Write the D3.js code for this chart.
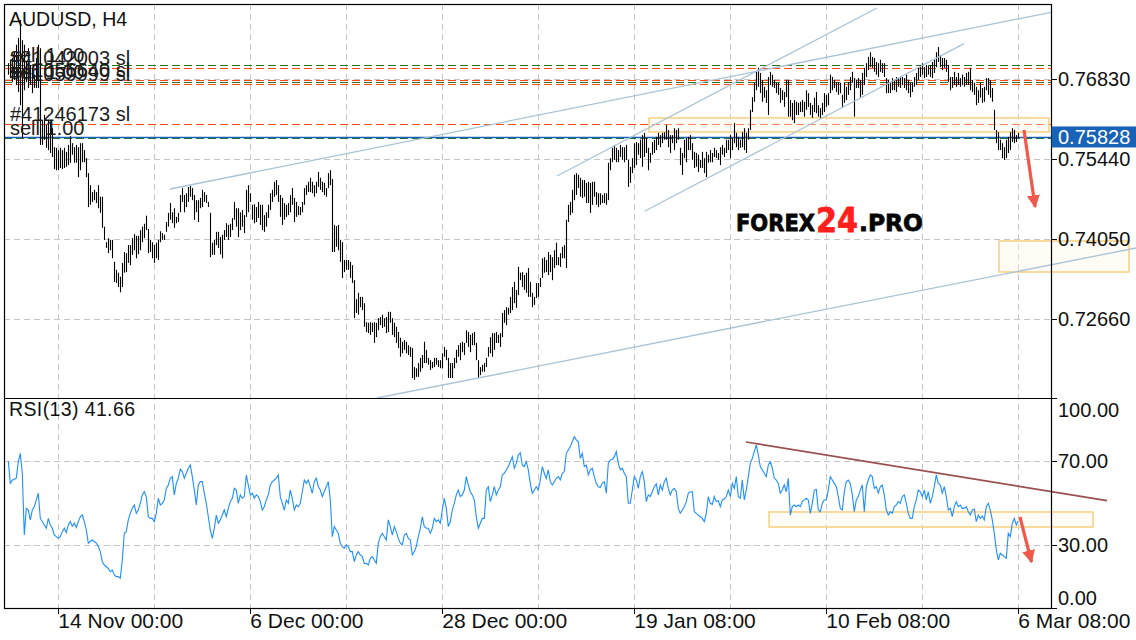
<!DOCTYPE html>
<html>
<head>
<meta charset="utf-8">
<script src="https://cdn.jsdelivr.net/npm/d3@7"></script>
<style>
body { margin: 0; background: #fff; }
svg { display: block; font-family: "Liberation Sans", Arial, sans-serif; }
</style>
</head>
<body>
<svg id="chart" width="1136" height="640"></svg>
<script>
// AUDUSD H4 bars, prices in pips (7683 = 0.76830)
var highs = [
7711,7717,7720,7730,7743,7755,7786,7751,7743,7713,
7737,7708,7704,7691,7720,7743,7737,7612,7621,7604,
7612,7609,7598,7565,7564,7560,7564,7560,7564,7557,
7569,7584,7572,7565,7569,7565,7572,7572,7560,7546,
7520,7499,7487,7491,7487,7499,7479,7479,7427,7400,
7407,7404,7404,7366,7352,7347,7340,7364,7383,7381,
7395,7395,7407,7414,7411,7411,7421,7427,7432,7446,
7423,7404,7400,7395,7399,7404,7419,7416,7413,7435,
7451,7468,7452,7459,7444,7451,7482,7494,7482,7485,
7496,7498,7494,7482,7473,7473,7477,7491,7487,7482,
7470,7451,7399,7404,7418,7418,7409,7413,7421,7433,
7430,7432,7442,7470,7459,7459,7452,7456,7447,7491,
7499,7485,7465,7466,7461,7470,7465,7465,7447,7452,
7465,7485,7491,7505,7508,7499,7482,7477,7468,7465,
7468,7482,7494,7477,7470,7463,7461,7470,7494,7499,
7505,7512,7505,7499,7505,7522,7512,7505,7503,7494,
7520,7525,7510,7430,7428,7430,7404,7400,7369,7369,
7369,7366,7360,7334,7301,7312,7305,7305,7294,7261,
7260,7261,7260,7261,7260,7268,7270,7274,7268,7270,
7279,7279,7268,7260,7253,7244,7234,7227,7230,7227,
7221,7218,7216,7183,7181,7190,7199,7204,7227,7213,
7199,7195,7192,7199,7199,7195,7195,7207,7218,7213,
7199,7190,7190,7199,7213,7221,7225,7227,7225,7247,
7244,7239,7242,7244,7225,7195,7183,7187,7190,7199,
7218,7235,7242,7242,7244,7239,7242,7277,7282,7287,
7286,7305,7322,7331,7317,7357,7347,7348,7343,7347,
7355,7331,7312,7305,7329,7329,7338,7372,7374,7369,
7383,7378,7374,7386,7399,7374,7381,7392,7395,7439,
7465,7470,7491,7517,7520,7517,7512,7508,7508,7503,
7505,7503,7505,7505,7487,7485,7485,7482,7485,7485,
7538,7546,7564,7569,7564,7560,7569,7565,7565,7569,
7543,7531,7546,7572,7574,7572,7578,7586,7590,7581,
7564,7555,7574,7578,7583,7590,7586,7590,7591,7604,
7595,7586,7586,7598,7595,7598,7564,7555,7578,7581,
7583,7586,7572,7557,7555,7552,7543,7557,7546,7557,
7552,7560,7555,7564,7560,7555,7565,7569,7564,7578,
7578,7586,7581,7607,7590,7583,7578,7591,7598,7590,
7598,7630,7652,7677,7696,7703,7694,7682,7670,7664,
7687,7696,7691,7682,7677,7677,7668,7664,7661,7682,
7682,7647,7642,7647,7644,7642,7644,7647,7644,7664,
7659,7642,7638,7651,7661,7638,7633,7642,7659,7656,
7659,7691,7687,7682,7678,7678,7677,7656,7677,7670,
7678,7687,7696,7685,7682,7685,7682,7694,7703,7711,
7722,7730,7722,7720,7713,7711,7717,7711,7711,7685,
7682,7678,7685,7682,7687,7685,7687,7687,7685,7691,
7682,7677,7678,7687,7694,7703,7708,7711,7704,7708,
7706,7708,7713,7717,7730,7739,7725,7720,7720,7717,
7708,7687,7687,7696,7687,7694,7685,7691,7687,7694,
7696,7703,7682,7677,7670,7664,7677,7668,7670,7685,
7685,7682,7668,7630,7595,7591,7578,7572,7565,7578,
7583,7591,7598,7595,7586,7590
];
var lows = [
7691,7685,7678,7682,7673,7661,7638,7581,7664,7678,
7668,7673,7659,7668,7668,7668,7569,7569,7578,7564,
7560,7555,7548,7527,7525,7525,7529,7527,7529,7531,
7534,7538,7552,7538,7538,7513,7525,7539,7539,7513,
7461,7465,7470,7473,7468,7459,7451,7425,7404,7390,
7381,7386,7372,7331,7329,7322,7313,7322,7347,7348,
7364,7360,7378,7386,7372,7379,7386,7400,7407,7421,
7381,7383,7372,7364,7372,7369,7400,7404,7404,7418,
7427,7439,7433,7425,7433,7435,7452,7470,7452,7461,
7470,7479,7473,7439,7452,7435,7459,7461,7470,7468,
7461,7374,7378,7378,7395,7390,7379,7372,7404,7409,
7404,7409,7421,7439,7427,7409,7421,7427,7416,7444,
7452,7470,7439,7433,7435,7442,7430,7421,7418,7427,
7442,7456,7470,7479,7482,7470,7444,7430,7439,7444,
7447,7452,7465,7435,7444,7447,7447,7452,7465,7482,
7487,7487,7485,7479,7485,7496,7491,7487,7482,7479,
7494,7499,7383,7383,7392,7386,7366,7338,7348,7352,
7352,7338,7329,7268,7277,7274,7287,7282,7253,7244,
7242,7239,7244,7225,7235,7247,7256,7251,7253,7242,
7244,7260,7239,7235,7225,7216,7201,7207,7213,7207,
7204,7201,7164,7161,7166,7166,7175,7181,7190,7190,
7187,7178,7181,7183,7187,7183,7181,7181,7201,7195,
7164,7164,7164,7181,7190,7201,7195,7209,7204,7225,
7218,7209,7221,7221,7195,7164,7169,7175,7175,7183,
7201,7207,7201,7213,7225,7225,7218,7235,7260,7256,
7274,7277,7282,7294,7286,7308,7334,7322,7317,7312,
7305,7305,7287,7291,7303,7305,7322,7338,7347,7348,
7343,7348,7334,7355,7360,7360,7357,7372,7372,7355,
7435,7447,7451,7473,7482,7494,7479,7477,7479,7468,
7468,7451,7465,7479,7465,7461,7465,7468,7468,7465,
7473,7525,7539,7543,7539,7539,7548,7543,7539,7543,
7496,7503,7520,7529,7534,7552,7546,7531,7548,7555,
7525,7538,7552,7555,7560,7569,7565,7572,7578,7578,
7565,7555,7572,7560,7572,7578,7534,7517,7546,7539,
7560,7560,7543,7529,7531,7522,7529,7529,7520,7513,
7538,7539,7539,7548,7546,7543,7534,7552,7548,7555,
7560,7546,7560,7572,7565,7560,7564,7565,7560,7555,
7578,7595,7626,7644,7664,7670,7659,7644,7651,7642,
7621,7673,7670,7668,7659,7656,7642,7647,7635,7652,
7618,7618,7612,7607,7621,7621,7626,7626,7618,7630,
7635,7621,7616,7626,7624,7618,7616,7621,7626,7635,
7638,7659,7664,7668,7661,7656,7659,7633,7642,7647,
7656,7664,7677,7618,7668,7668,7652,7656,7673,7687,
7699,7704,7703,7696,7691,7687,7696,7694,7687,7659,
7659,7659,7664,7664,7661,7670,7668,7673,7668,7664,
7659,7652,7661,7670,7673,7682,7687,7691,7685,7687,
7691,7687,7685,7694,7704,7713,7704,7699,7703,7696,
7678,7664,7668,7673,7670,7673,7670,7673,7670,7673,
7673,7664,7661,7656,7638,7642,7651,7642,7644,7664,
7656,7651,7644,7595,7572,7560,7560,7546,7543,7546,
7555,7560,7574,7572,7574,7581
];
// RSI(13), one value per bar
var rsi = [
70.0,59.5,61.0,61.5,62.0,69.8,73.8,64.3,34.9,47.6,
46.8,42.1,46.8,48.4,51.6,54.8,42.8,41.3,39.7,38.1,
42.8,39.7,38.1,34.9,34.1,33.3,34.1,36.5,38.1,36.0,
39.7,41.3,39.0,40.5,38.5,41.3,43.6,44.4,41.3,37.3,
31.0,31.8,32.5,31.8,31.0,29.4,27.0,22.2,20.6,19.8,
19.0,17.4,18.2,15.9,15.1,15.1,14.3,23.0,35.7,36.5,
42.1,45.2,47.6,49.2,45.2,46.8,50.0,54.0,55.5,53.2,
43.6,42.8,42.8,41.3,45.2,52.4,49.2,50.0,51.6,57.1,
58.7,61.9,62.7,54.0,59.5,61.9,66.2,65.1,61.9,64.3,
66.7,68.2,62.7,56.3,49.2,58.7,60.3,60.3,54.8,50.0,
43.6,37.3,33.3,38.1,44.4,40.5,42.1,44.4,46.8,43.6,
47.6,50.8,52.4,57.1,56.3,50.0,54.0,52.4,53.2,63.5,
58.7,54.0,54.8,52.4,54.0,53.2,50.8,46.8,48.4,51.6,
54.0,58.7,60.3,61.1,61.9,63.5,53.2,50.0,46.8,51.6,
50.0,56.3,52.4,46.8,49.2,48.4,50.0,55.5,61.1,59.5,
61.1,57.9,54.8,60.3,61.9,57.9,56.3,53.2,55.5,57.9,
60.3,51.6,34.1,38.9,37.3,35.7,31.0,29.4,28.6,30.2,
29.4,27.0,27.0,22.2,25.4,27.0,25.4,24.6,21.4,21.4,
20.6,23.8,24.6,23.0,21.4,31.0,34.1,35.7,34.1,32.5,
42.1,38.9,34.9,38.9,36.5,33.3,31.0,30.2,34.9,35.7,
33.3,32.5,25.4,27.0,29.4,34.1,38.1,43.6,38.9,38.1,
38.1,35.7,38.1,42.8,41.3,42.1,40.5,46.8,52.4,47.6,
38.9,41.3,46.8,50.0,54.0,56.3,53.2,54.0,56.3,62.7,
58.7,55.5,54.0,51.6,43.6,38.1,40.5,42.8,42.8,56.3,
57.9,50.8,54.0,57.9,54.0,56.3,57.9,63.5,64.3,65.9,
67.5,69.8,72.2,66.7,69.0,73.0,74.1,68.2,67.5,69.8,
65.9,59.5,54.8,56.3,57.9,56.3,61.1,67.5,64.3,61.9,
65.9,60.3,58.7,60.3,61.9,62.7,61.1,64.3,65.1,73.8,
75.4,77.0,79.4,81.7,80.2,79.4,71.4,73.8,67.5,68.2,
63.5,65.9,66.7,62.7,59.5,57.9,57.6,59.5,60.3,54.8,
69.0,70.6,70.9,72.2,74.6,69.0,65.9,66.7,64.3,62.7,
50.0,50.0,56.3,62.7,61.1,57.1,62.7,65.1,60.3,50.8,
54.0,53.2,55.5,57.9,59.2,54.0,58.7,56.3,60.3,61.9,
57.1,54.0,56.3,57.1,55.5,47.6,45.2,46.8,48.4,50.8,
54.8,55.5,55.5,46.0,45.2,44.4,43.6,42.8,41.3,45.2,
53.2,50.0,49.5,53.2,50.8,51.2,48.4,51.6,52.0,53.2,
56.3,53.2,59.5,57.1,62.7,53.2,52.4,61.1,51.6,56.3,
62.7,69.0,71.4,74.6,77.8,73.0,67.5,65.9,64.3,62.7,
68.2,69.8,66.7,61.9,61.1,59.5,54.8,56.3,58.7,55.5,
61.9,44.4,48.4,49.2,48.4,49.2,48.4,50.8,51.6,52.4,
51.6,45.2,50.0,56.3,56.6,46.8,46.0,50.0,51.6,51.6,
56.3,62.7,61.1,59.5,57.9,53.2,47.6,46.8,55.5,60.3,
61.1,59.5,54.0,46.0,51.6,53.2,56.3,58.7,46.0,57.9,
61.1,63.5,62.7,57.1,57.9,54.8,57.9,58.7,54.0,46.8,
44.4,46.0,45.2,48.4,49.2,50.8,50.0,53.2,54.0,50.0,
45.2,42.8,42.8,48.4,51.6,56.3,55.5,53.2,56.3,51.6,
55.5,50.0,53.2,57.9,63.5,59.5,58.7,54.8,57.9,53.2,
46.8,47.6,43.6,48.4,50.8,48.4,49.2,47.6,47.6,48.4,
46.0,44.4,46.8,47.2,41.3,44.4,42.8,44.0,42.1,48.4,
50.0,46.8,42.1,35.7,27.8,23.0,26.2,25.4,24.6,23.8,
35.7,34.1,40.5,42.8,39.7,41.66
];

var priceTicks = [0.72660, 0.74050, 0.75440, 0.76830];
var rsiTicks = [100, 70, 30, 0];
var rsiGrid = [70, 30];
var gridBars = [25, 73, 121, 169, 217, 265, 313, 361, 409, 457, 505];
var dateBars = [25, 121, 217, 313, 409, 505];
var dateLabels = ["14 Nov 00:00", "6 Dec 00:00", "28 Dec 00:00", "19 Jan 08:00", "10 Feb 08:00", "6 Mar 08:00"];
var lastPrice = 0.75828;
var rsiLast = 41.66;

// open orders: price level, kind, label
var orderPrices = [0.77073, 0.77021, 0.76813, 0.76778, 0.76754, 0.76048, 0.75818];
var orderKinds = ["open", "sl", "sl", "open", "sl", "sl", "open"];
var orderLabels = ["sell 1.00", "#41042003 sl", "#41056640 sl", "sell 1.00", "#41059999 sl", "#41246173 sl", "sell 1.00"];

// drawings, in [bar, price] / [bar, rsi]
var trendLines = [
  [[80.85, 0.74924], [521.35, 0.77994]],
  [[184.35, 0.71293], [563.85, 0.73899]],
  [[274.35, 0.75150], [434.35, 0.78069]],
  [[318.35, 0.74542], [477.85, 0.77449]]
];
var priceZones = [
  [[320.35, 0.76158], [520.35, 0.75915]],
  [[495.35, 0.74021], [560.35, 0.73482]]
];
var rsiZone = [[380.35, 45.86], [542.35, 38.7]];
var rsiTrend = [[368.85, 79.19], [549.35, 51.29]];
var priceArrow = [[507.85, 0.75950], [513.85, 0.74507]];
var rsiArrow = [[505.85, 43.48], [512.35, 19.19]];

var left = 4, axisX = 1051, priceTop = 4, priceBottom = 398, rsiBottom = 608;
var svg = d3.select("#chart");

var x = d3.scaleLinear().domain([0, 505]).range([8.3, 1018.3]);
var y = d3.scaleLinear().domain([0.71293, 0.78138]).range([priceBottom, priceTop]);
var yr = d3.scaleLinear().domain([0, 100]).range([608.3, 398.3]);

function px(v) { return Math.round(v) + 0.5; }

var bars = highs.map(function(h, i) { return { i: i, high: h / 1e4, low: lows[i] / 1e4 }; });

svg.append("rect").attr("width", 1136).attr("height", 640).attr("fill", "#fff");

var defs = svg.append("defs");
defs.append("clipPath").attr("id", "priceClip").append("rect")
  .attr("x", left).attr("y", priceTop).attr("width", 1136 - left).attr("height", priceBottom - priceTop);
defs.append("marker").attr("id", "head")
  .attr("viewBox", "0 0 12 12").attr("refX", 11).attr("refY", 6)
  .attr("markerWidth", 13).attr("markerHeight", 13).attr("markerUnits", "userSpaceOnUse")
  .attr("orient", "auto")
  .append("path").attr("d", "M0,0 L12,6 L0,12 z").attr("fill", "#f2584a");

// grid
var grid = svg.append("g").attr("stroke", "#c6c6c6").attr("stroke-dasharray", "6,4").attr("stroke-width", 1);
gridBars.forEach(function(b) {
  grid.append("line").attr("x1", px(x(b))).attr("x2", px(x(b))).attr("y1", priceTop).attr("y2", rsiBottom);
});
priceTicks.forEach(function(t) {
  grid.append("line").attr("x1", left).attr("x2", axisX).attr("y1", px(y(t))).attr("y2", px(y(t)));
});
rsiGrid.forEach(function(t) {
  grid.append("line").attr("x1", left).attr("x2", axisX).attr("y1", px(yr(t))).attr("y2", px(yr(t)));
});

// order lines
var orders = svg.append("g");
orderPrices.forEach(function(p, k) {
  orders.append("line")
    .attr("x1", left).attr("x2", axisX).attr("y1", px(y(p))).attr("y2", px(y(p)))
    .attr("stroke", orderKinds[k] == "sl" ? "#ff4a10" : "#23761f")
    .attr("stroke-width", 1.2)
    .attr("stroke-dasharray", "8,4");
});
orders.append("line")
  .attr("x1", left).attr("x2", axisX).attr("y1", px(y(lastPrice))).attr("y2", px(y(lastPrice)))
  .attr("stroke", "#1862b8").attr("stroke-width", 1.3);

// zones
priceZones.forEach(function(z) {
  svg.append("rect")
    .attr("x", x(z[0][0])).attr("y", y(z[0][1]))
    .attr("width", x(z[1][0]) - x(z[0][0])).attr("height", y(z[1][1]) - y(z[0][1]))
    .attr("fill", "rgba(255,246,225,0.35)").attr("stroke", "#f5d081").attr("stroke-width", 1.5);
});
svg.append("rect")
  .attr("x", x(rsiZone[0][0])).attr("y", yr(rsiZone[0][1]))
  .attr("width", x(rsiZone[1][0]) - x(rsiZone[0][0])).attr("height", yr(rsiZone[1][1]) - yr(rsiZone[0][1]))
  .attr("fill", "rgba(255,246,225,0.35)").attr("stroke", "#f5d081").attr("stroke-width", 1.5);

// bars
svg.append("g").attr("clip-path", "url(#priceClip)")
  .selectAll("line").data(bars).join("line")
  .attr("x1", function(d) { return px(x(d.i)); })
  .attr("x2", function(d) { return px(x(d.i)); })
  .attr("y1", function(d) { return y(d.high); })
  .attr("y2", function(d) { return y(d.low); })
  .attr("stroke", "#000").attr("stroke-width", 1.1);

// trend lines
svg.append("g").attr("clip-path", "url(#priceClip)")
  .selectAll("line").data(trendLines).join("line")
  .attr("x1", function(d) { return x(d[0][0]); })
  .attr("y1", function(d) { return y(d[0][1]); })
  .attr("x2", function(d) { return x(d[1][0]); })
  .attr("y2", function(d) { return y(d[1][1]); })
  .attr("stroke", "#a9c3d5").attr("stroke-width", 1.3);

// RSI line
var rsiLine = d3.line().x(function(d, i) { return x(i); }).y(function(d) { return yr(d); });
svg.append("path").datum(rsi).attr("d", rsiLine)
  .attr("fill", "none").attr("stroke", "#1e8fff").attr("stroke-width", 1.1);

svg.append("line")
  .attr("x1", x(rsiTrend[0][0])).attr("y1", yr(rsiTrend[0][1]))
  .attr("x2", x(rsiTrend[1][0])).attr("y2", yr(rsiTrend[1][1]))
  .attr("stroke", "#9a4f4f").attr("stroke-width", 1.6);

// arrows
function arrow(a, ys) {
  var x1 = x(a[0][0]), y1 = ys(a[0][1]), x2 = x(a[1][0]), y2 = ys(a[1][1]);
  var len = Math.sqrt((x2 - x1) * (x2 - x1) + (y2 - y1) * (y2 - y1));
  var k = (len - 6) / len;
  svg.append("line")
    .attr("x1", x1).attr("y1", y1).attr("x2", x1 + (x2 - x1) * k).attr("y2", y1 + (y2 - y1) * k)
    .attr("stroke", "#f2584a").attr("stroke-width", 3.2)
    .attr("marker-end", "url(#head)");
}
arrow(priceArrow, y);
arrow(rsiArrow, yr);

// watermark
var wm = svg.append("g").attr("font-family", "'DejaVu Sans', sans-serif").attr("font-weight", "bold");
wm.append("text").attr("x", 736).attr("y", 231).attr("font-size", 23).attr("fill", "#050505")
  .attr("stroke", "#050505").attr("stroke-width", 0.8)
  .attr("textLength", 79).attr("lengthAdjust", "spacingAndGlyphs").text("FOREX");
wm.append("text").attr("x", 816).attr("y", 232).attr("font-size", 33).attr("fill", "#ff1e1e")
  .attr("stroke", "#ff1e1e").attr("stroke-width", 0.8)
  .attr("textLength", 42).attr("lengthAdjust", "spacingAndGlyphs").text("24");
wm.append("text").attr("x", 859).attr("y", 231).attr("font-size", 23).attr("fill", "#050505")
  .attr("stroke", "#050505").attr("stroke-width", 0.8)
  .attr("textLength", 64).attr("lengthAdjust", "spacingAndGlyphs").text(".PRO");

// order labels (they stack on top of each other, as in the terminal)
var labels = svg.append("g").attr("font-size", 20).attr("fill", "#1c1c1c");
orderPrices.forEach(function(p, k) {
  labels.append("text").attr("x", 10).attr("y", y(p) - 3).text(orderLabels[k]);
});

// titles
svg.append("text").attr("x", 9).attr("y", 26).attr("font-size", 19.5).attr("fill", "#111")
  .text("AUDUSD, H4");
svg.append("text").attr("x", 9).attr("y", 416).attr("font-size", 19.5).attr("fill", "#111")
  .attr("textLength", 126).text("RSI(13) " + rsiLast.toFixed(2));

// frame
var frame = svg.append("g").attr("stroke", "#000").attr("stroke-width", 1.2).attr("fill", "none");
frame.append("rect").attr("x", left + 0.5).attr("y", priceTop + 0.5)
  .attr("width", axisX - left).attr("height", rsiBottom - priceTop);
frame.append("line").attr("x1", left).attr("x2", axisX + 1).attr("y1", priceBottom + 0.5).attr("y2", priceBottom + 0.5);

// right price axis
var axisG = svg.append("g").attr("font-size", 20).attr("fill", "#111");
priceTicks.forEach(function(t) {
  axisG.append("line").attr("x1", axisX).attr("x2", axisX + 6).attr("y1", px(y(t))).attr("y2", px(y(t)))
    .attr("stroke", "#000");
  axisG.append("text").attr("x", 1058).attr("y", y(t) + 7).text(t.toFixed(5));
});
axisG.append("rect").attr("x", axisX + 0.5).attr("y", y(lastPrice) - 10.5).attr("width", 1136 - axisX).attr("height", 21)
  .attr("fill", "#1862b8");
axisG.append("text").attr("x", 1058).attr("y", y(lastPrice) + 7).attr("fill", "#fff").text(lastPrice.toFixed(5));

rsiTicks.forEach(function(t) {
  var ty = yr(t);
  axisG.append("line").attr("x1", axisX).attr("x2", axisX + 6).attr("y1", px(ty)).attr("y2", px(ty))
    .attr("stroke", "#000");
  var ly = Math.max(priceBottom + 19, Math.min(rsiBottom - 3, ty + 7));
  axisG.append("text").attr("x", 1058).attr("y", ly).text(t.toFixed(2));
});

// time axis
dateBars.forEach(function(b, k) {
  axisG.append("line").attr("x1", px(x(b))).attr("x2", px(x(b))).attr("y1", rsiBottom).attr("y2", rsiBottom + 6)
    .attr("stroke", "#000");
  axisG.append("text").attr("x", x(b)).attr("y", 628).attr("font-size", 21).text(dateLabels[k]);
});
</script>
</body>
</html>
